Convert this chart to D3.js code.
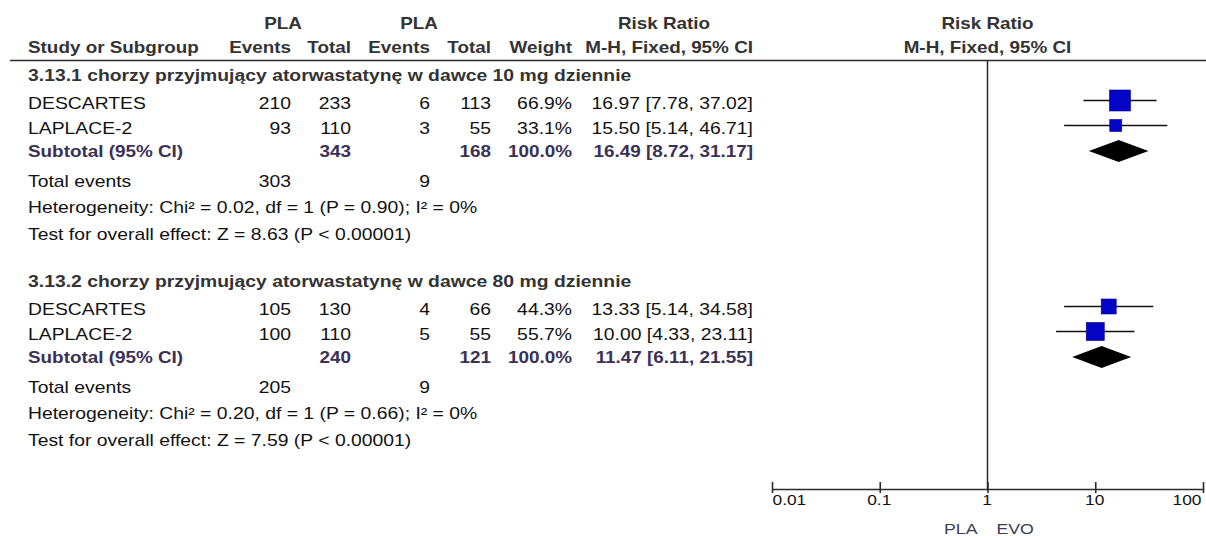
<!DOCTYPE html>
<html>
<head>
<meta charset="utf-8">
<script src="https://cdn.jsdelivr.net/npm/d3@7"></script>
<style>
  html, body { margin: 0; padding: 0; background: #fff; }
  svg { display: block; }
  text { font-family: "Liberation Sans", Arial, sans-serif; font-size: 16px; }
</style>
</head>
<body>
<svg id="chart" width="1206" height="536"></svg>
<script>
// ---- data -------------------------------------------------------------
const subgroupTitles = [
  "3.13.1 chorzy przyjmujący atorwastatynę w dawce 10 mg dziennie",
  "3.13.2 chorzy przyjmujący atorwastatynę w dawce 80 mg dziennie"
];
const studyNames   = ["DESCARTES", "LAPLACE-2", "DESCARTES", "LAPLACE-2"];
const studyGroup   = [0, 0, 1, 1];
const expEvents    = [210, 93, 105, 100];
const expTotal     = [233, 110, 130, 110];
const ctlEvents    = [6, 3, 4, 5];
const ctlTotal     = [113, 55, 66, 55];
const weights      = [66.9, 33.1, 44.3, 55.7];
const riskRatio    = [16.97, 15.50, 13.33, 10.00];
const ciLower      = [7.78, 5.14, 5.14, 4.33];
const ciUpper      = [37.02, 46.71, 34.58, 23.11];

const subExpTotal   = [343, 240];
const subCtlTotal   = [168, 121];
const subRiskRatio  = [16.49, 11.47];
const subLower      = [8.72, 6.11];
const subUpper      = [31.17, 21.55];
const subExpEvents  = [303, 205];
const subCtlEvents  = [9, 9];
const heterogeneity = [
  "Heterogeneity: Chi\u00B2 = 0.02, df = 1 (P = 0.90); I\u00B2 = 0%",
  "Heterogeneity: Chi\u00B2 = 0.20, df = 1 (P = 0.66); I\u00B2 = 0%"
];
const overallEffect = [
  "Test for overall effect: Z = 8.63 (P < 0.00001)",
  "Test for overall effect: Z = 7.59 (P < 0.00001)"
];

const axisTicks      = [0.01, 0.1, 1, 10, 100];
const axisTickLabels = ["0.01", "0.1", "1", "10", "100"];
const favourLeft  = "PLA";
const favourRight = "EVO";

// ---- layout -----------------------------------------------------------
const svg = d3.select("#chart");
const SX_N = 1.21, SX_B = 1.18, SX_G = 1.21;   // wide table lettering
const C_HEAD = "#333333", C_SUB = "#3b3154", C_TXT = "#111111", C_LINE = "#2a2a2a";

// right edges of numeric columns
const col = { name: 28, ee: 291, et: 351, ce: 430, ct: 491, w: 572, ci: 753 };
const groupOffset = 206;
const rowY = { head: 81, s1: 109, s2: 134, sub: 157, events: 187, het: 213, test: 240 };

const x = d3.scaleLog().domain([0.01, 100]).range([772, 1203]);
const box = d3.scaleLinear().domain([0, 100]).range([3.2, 29.8]);
const fmt2 = d3.format(".2f");
const fmtW = d => d3.format(".1f")(d) + "%";

function txt(g, px, py, s, o = {}) {
  const sx = o.sx || (o.bold ? SX_B : SX_N);
  return g.append("text")
    .attr("transform", `translate(${px},${py}) scale(${sx},1)`)
    .attr("text-anchor", o.anchor || "start")
    .attr("font-weight", o.bold ? "bold" : "normal")
    .attr("fill", o.fill || C_TXT)
    .style("font-size", (o.size || 16) + "px")
    .text(s);
}
const ciText = (r, l, u) => `${fmt2(r)} [${fmt2(l)}, ${fmt2(u)}]`;

// ---- header -----------------------------------------------------------
const head = svg.append("g");
txt(head, 283, 29, "PLA", { anchor: "middle", bold: true, fill: C_HEAD });
txt(head, 419, 29, "PLA", { anchor: "middle", bold: true, fill: C_HEAD });
txt(head, 664, 29, "Risk Ratio", { anchor: "middle", bold: true, fill: C_HEAD });
txt(head, x(1), 29, "Risk Ratio", { anchor: "middle", bold: true, fill: C_HEAD });
txt(head, col.name, 53, "Study or Subgroup", { bold: true, fill: C_HEAD });
txt(head, col.ee, 53, "Events", { anchor: "end", bold: true, fill: C_HEAD });
txt(head, col.et, 53, "Total", { anchor: "end", bold: true, fill: C_HEAD });
txt(head, col.ce, 53, "Events", { anchor: "end", bold: true, fill: C_HEAD });
txt(head, col.ct, 53, "Total", { anchor: "end", bold: true, fill: C_HEAD });
txt(head, col.w, 53, "Weight", { anchor: "end", bold: true, fill: C_HEAD });
txt(head, col.ci, 53, "M-H, Fixed, 95% CI", { anchor: "end", bold: true, fill: C_HEAD });
txt(head, x(1), 53, "M-H, Fixed, 95% CI", { anchor: "middle", bold: true, fill: C_HEAD });
head.append("line").attr("x1", 10).attr("x2", 1206).attr("y1", 60.5).attr("y2", 60.5)
  .attr("stroke", C_LINE).attr("stroke-width", 1.6);

// line of no effect
svg.append("line").attr("x1", x(1)).attr("x2", x(1)).attr("y1", 61).attr("y2", 489)
  .attr("stroke", C_LINE).attr("stroke-width", 1.5);

// ---- subgroups ------------------------------------------------------
const plot = svg.append("g");
subgroupTitles.forEach((title, gi) => {
  const off = gi * groupOffset;
  const g = svg.append("g");
  txt(g, col.name, rowY.head + off, title, { bold: true, fill: C_HEAD, sx: SX_G });

  const idx = studyNames.map((_, i) => i).filter(i => studyGroup[i] === gi);
  idx.forEach((i, k) => {
    const yb = (k === 0 ? rowY.s1 : rowY.s2) + off;
    txt(g, col.name, yb, studyNames[i]);
    txt(g, col.ee, yb, expEvents[i], { anchor: "end" });
    txt(g, col.et, yb, expTotal[i], { anchor: "end" });
    txt(g, col.ce, yb, ctlEvents[i], { anchor: "end" });
    txt(g, col.ct, yb, ctlTotal[i], { anchor: "end" });
    txt(g, col.w, yb, fmtW(weights[i]), { anchor: "end" });
    txt(g, col.ci, yb, ciText(riskRatio[i], ciLower[i], ciUpper[i]), { anchor: "end" });

    const cy = yb - 8.5;
    plot.append("line").attr("x1", x(ciLower[i])).attr("x2", x(ciUpper[i]))
      .attr("y1", cy).attr("y2", cy).attr("stroke", "#111").attr("stroke-width", 1.6);
    const s = box(weights[i]);
    plot.append("rect").attr("x", x(riskRatio[i]) - s / 2).attr("y", cy - s / 2)
      .attr("width", s).attr("height", s)
      .attr("fill", "#0404c6").attr("stroke", "#00008a").attr("stroke-width", 0.6);
  });

  const ys = rowY.sub + off;
  txt(g, col.name, ys, "Subtotal (95% CI)", { bold: true, fill: C_SUB });
  txt(g, col.et, ys, subExpTotal[gi], { anchor: "end", bold: true, fill: C_SUB });
  txt(g, col.ct, ys, subCtlTotal[gi], { anchor: "end", bold: true, fill: C_SUB });
  txt(g, col.w, ys, fmtW(100), { anchor: "end", bold: true, fill: C_SUB });
  txt(g, col.ci, ys, ciText(subRiskRatio[gi], subLower[gi], subUpper[gi]),
      { anchor: "end", bold: true, fill: C_SUB });

  const dy = ys - 6, dh = 11;
  plot.append("path")
    .attr("d", `M${x(subLower[gi])},${dy} L${x(subRiskRatio[gi])},${dy - dh} ` +
               `L${x(subUpper[gi])},${dy} L${x(subRiskRatio[gi])},${dy + dh} Z`)
    .attr("fill", "#000");

  txt(g, col.name, rowY.events + off, "Total events");
  txt(g, col.ee, rowY.events + off, subExpEvents[gi], { anchor: "end" });
  txt(g, col.ce, rowY.events + off, subCtlEvents[gi], { anchor: "end" });
  txt(g, col.name, rowY.het + off, heterogeneity[gi]);
  txt(g, col.name, rowY.test + off, overallEffect[gi]);
});

// ---- log axis ---------------------------------------------------------
const axisG = svg.append("g").attr("transform", "translate(0,489)");
axisG.call(d3.axisBottom(x).tickValues(axisTicks).tickSize(0).tickFormat(""));
axisG.select(".domain").attr("stroke", C_LINE).attr("stroke-width", 1.6);
axisG.selectAll(".tick").append("line").attr("y1", -7).attr("y2", 4)
  .attr("stroke", C_LINE).attr("stroke-width", 1.6);
axisG.selectAll(".tick").each(function (d, i) {
  const last = axisTicks.length - 1;
  const anchor = i === 0 ? "start" : (i === last ? "end" : "middle");
  const dx = i === 0 ? 0 : (i === last ? -2 : -1);
  d3.select(this).append("text")
    .attr("transform", `translate(${dx},16) scale(1.12,1)`)
    .attr("text-anchor", anchor).attr("fill", C_TXT)
    .style("font-size", "15.5px")
    .text(axisTickLabels[i]);
});
txt(svg, x(1) - 10, 534, favourLeft, { anchor: "end", fill: "#3c3c52", size: 15, sx: 1.18 });
txt(svg, x(1) + 9, 534, favourRight, { anchor: "start", fill: "#3c3c52", size: 15, sx: 1.18 });
</script>
</body>
</html>
